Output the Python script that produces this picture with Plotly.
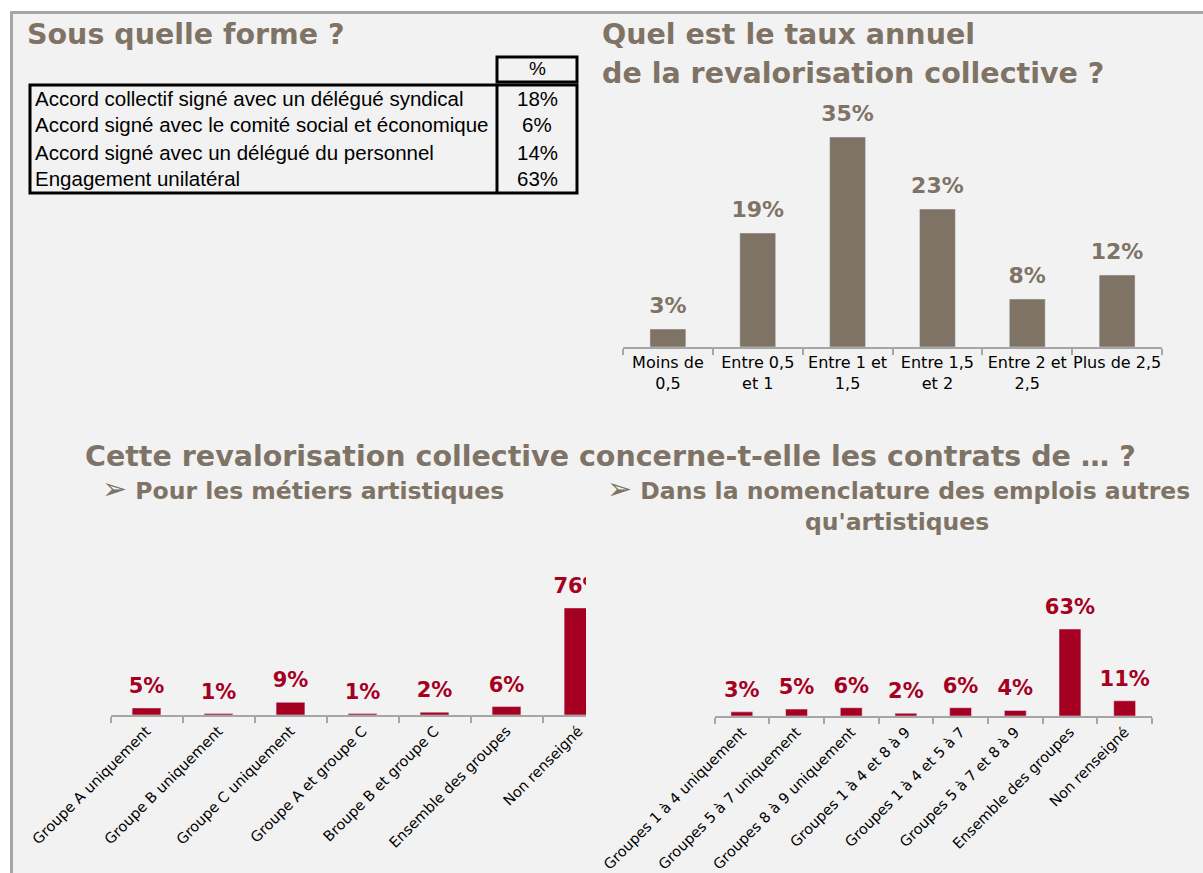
import plotly.graph_objects as go

W, H = 1203, 873

# ---- data ----
forme_labels = [
    "Accord collectif signé avec un délégué syndical",
    "Accord signé avec le comité social et économique",
    "Accord signé avec un délégué du personnel",
    "Engagement unilatéral",
]
forme_values = [18, 6, 14, 63]

taux_cats = ["Moins de<br>0,5", "Entre 0,5<br>et 1", "Entre 1 et<br>1,5",
             "Entre 1,5<br>et 2", "Entre 2 et<br>2,5", "Plus de 2,5"]
taux_vals = [3, 19, 35, 23, 8, 12]

art_cats = ["Groupe A uniquement", "Groupe B uniquement", "Groupe C uniquement",
            "Groupe A et groupe C", "Broupe B et groupe C", "Ensemble des groupes",
            "Non renseigné"]
art_vals = [5, 1, 9, 1, 2, 6, 76]

autres_cats = ["Groupes 1 à 4 uniquement", "Groupes 5 à 7 uniquement",
               "Groupes 8 à 9 uniquement", "Groupes 1 à 4 et 8 à 9",
               "Groupes 1 à 4 et 5 à 7", "Groupes 5 à 7 et 8 à 9",
               "Ensemble des groupes", "Non renseigné"]
autres_vals = [3, 5, 6, 2, 6, 4, 63, 11]

# ---- styling ----
BROWN = "#7f7366"
RED = "#a50021"
AXIS = "#a6a6a6"
BG = "#f2f2f2"
FONT = "DejaVu Sans"
TITLE_SIZE = 28.5
SUB_SIZE = 23.5
ARROW = '<span style="font-size:30px">➢</span>'


def fx(p):
    return p / W


def fy(p):
    return 1 - p / H


fig = go.Figure()


def add_bars(vals, cats, color, xa, ya, label_size, pad):
    fig.add_trace(go.Bar(x=cats, y=vals, marker_color=color, xaxis=xa, yaxis=ya,
                         hoverinfo="skip", showlegend=False, cliponaxis=True))
    # value labels sit just above each bar (invisible marker sets the gap)
    fig.add_trace(go.Scatter(
        x=cats, y=vals, mode="markers+text", text=[f"{v}%" for v in vals],
        textposition="top center", marker=dict(size=pad, opacity=0),
        textfont=dict(family=FONT, size=label_size, color=color, weight="bold"),
        xaxis=xa, yaxis=ya, hoverinfo="skip", showlegend=False, cliponaxis=True))


add_bars(taux_vals, taux_cats, BROWN, "x", "y", 22, 16)
add_bars(art_vals, art_cats, RED, "x2", "y2", 21, 14)
add_bars(autres_vals, autres_cats, RED, "x3", "y3", 21, 14)

xcommon = dict(type="category", showline=True, linecolor=AXIS, linewidth=2,
               ticks="outside", tickson="boundaries", ticklen=6, tickcolor=AXIS,
               tickwidth=1.5, showgrid=False, zeroline=False, fixedrange=True,
               automargin=False)
ycommon = dict(visible=False, showgrid=False, zeroline=False, fixedrange=True,
               automargin=False)

fig.update_layout(
    width=W, height=H, margin=dict(l=0, r=0, t=0, b=0, autoexpand=False),
    paper_bgcolor="white", plot_bgcolor="rgba(0,0,0,0)",
    bargap=0.6, showlegend=False,
    font=dict(family=FONT, color="black"),
    xaxis=dict(**xcommon, domain=[fx(623), fx(1162)], range=[-0.5, 5.5], anchor="y",
               tickfont=dict(size=16, color="black"), tickangle=0),
    yaxis=dict(**ycommon, domain=[fy(347), fy(89)], range=[0, 43], anchor="x"),
    xaxis2=dict(**xcommon, domain=[fx(110.5), fx(586)], range=[-0.5, 6.104], anchor="y2",
                tickfont=dict(size=14.5, color="black"), tickangle=-45),
    yaxis2=dict(**ycommon, domain=[fy(715), fy(560)], range=[0, 110], anchor="x2"),
    xaxis3=dict(**xcommon, domain=[fx(714.5), fx(1152)], range=[-0.5, 7.5], anchor="y3",
                tickfont=dict(size=14.5, color="black"), tickangle=-45),
    yaxis3=dict(**ycommon, domain=[fy(716), fy(560)], range=[0, 113], anchor="x3"),
)

shapes = [
    # gray panel with its top and left border
    dict(type="rect", xref="paper", yref="paper", x0=fx(10), x1=1, y0=0, y1=fy(12),
         fillcolor=BG, line=dict(width=0), layer="below"),
    dict(type="line", xref="paper", yref="paper", x0=fx(10), x1=1, y0=fy(12.5), y1=fy(12.5),
         line=dict(color=AXIS, width=3), layer="below"),
    dict(type="line", xref="paper", yref="paper", x0=fx(11.5), x1=fx(11.5), y0=0, y1=fy(11),
         line=dict(color=AXIS, width=3), layer="below"),
    # table frame
    dict(type="rect", xref="paper", yref="paper", x0=fx(497), x1=fx(577), y0=fy(82), y1=fy(57),
         line=dict(color="black", width=3)),
    dict(type="rect", xref="paper", yref="paper", x0=fx(30), x1=fx(577), y0=fy(193), y1=fy(85),
         line=dict(color="black", width=3)),
    dict(type="line", xref="paper", yref="paper", x0=fx(497), x1=fx(497), y0=fy(193), y1=fy(85),
         line=dict(color="black", width=3)),
]

ann = []


def text(s, x, y, size, color=BROWN, bold=True, xanchor="left", family=FONT):
    ann.append(dict(text=s, x=fx(x), y=fy(y), xref="paper", yref="paper",
                    xanchor=xanchor, yanchor="middle", showarrow=False,
                    font=dict(family=family, size=size, color=color,
                              weight="bold" if bold else "normal")))


text("Sous quelle forme ?", 25, 35, TITLE_SIZE)
text("Quel est le taux annuel", 600, 35, TITLE_SIZE)
text("de la revalorisation collective ?", 600, 73, TITLE_SIZE)
text("Cette revalorisation collective concerne-t-elle les contrats de … ?", 610, 456,
     TITLE_SIZE, xanchor="center")
text(ARROW + " Pour les métiers artistiques", 100, 488, SUB_SIZE)
text(ARROW + " Dans la nomenclature des emplois autres", 605, 488, SUB_SIZE)
text("qu'artistiques", 897, 522, SUB_SIZE, xanchor="center")

# table contents
TFONT = "Liberation Sans"
TSIZE = 20.5
text("%", 537, 69, 19, color="black", bold=False, xanchor="center", family=TFONT)
for i, (lab, val) in enumerate(zip(forme_labels, forme_values)):
    yrow = 98 + 27 * i
    text(lab, 33, yrow, TSIZE, color="black", bold=False, family=TFONT)
    text(f"{val}%", 537, yrow, TSIZE, color="black", bold=False, xanchor="center", family=TFONT)

fig.update_layout(shapes=shapes, annotations=ann)
fig.write_html("out.html")
